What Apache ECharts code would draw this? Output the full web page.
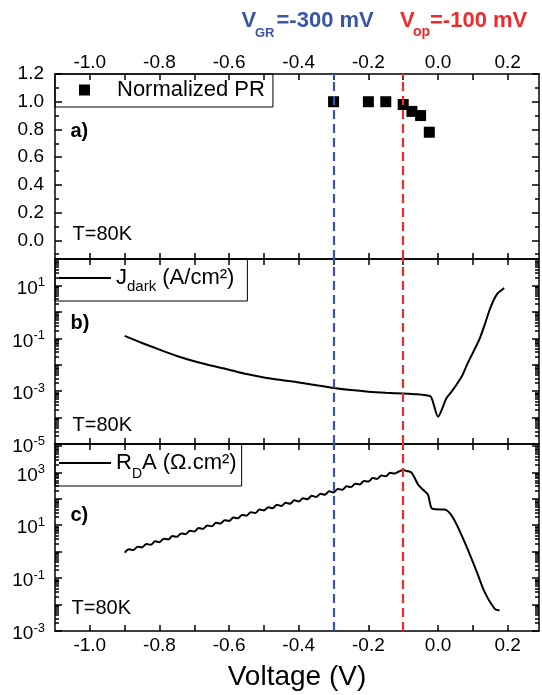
<!DOCTYPE html>
<html><head><meta charset="utf-8">
<script src="https://cdn.jsdelivr.net/npm/echarts@6/dist/echarts.min.js"></script>
<style>html,body{margin:0;padding:0;background:#fff}#c{width:542px;height:695px}</style>
</head><body><div id="c"></div>
<script>
// ---------- data ----------
const vGR = -0.3;   // V_GR line
const vOp = -0.1;   // V_op line

// panel a) normalized photoresponse
const prV   = [-0.3, -0.2, -0.15, -0.1, -0.075, -0.05, -0.025];
const prVal = [1.0, 1.0, 1.0, 0.98, 0.93, 0.90, 0.78];

// panel b) dark current density, log10 of J (A/cm²)
const jV   = [-0.9,-0.85,-0.8,-0.75,-0.7,-0.65,-0.6,-0.55,-0.5,-0.45,-0.4,-0.35,-0.3,-0.25,-0.2,-0.15,-0.1,-0.06,-0.04,-0.02,0.0,0.024,0.04,0.055,0.07,0.085,0.1,0.12,0.135,0.148,0.16,0.17,0.18,0.19];
const jLog = [-0.91,-1.18,-1.43,-1.67,-1.87,-2.04,-2.19,-2.35,-2.48,-2.58,-2.67,-2.78,-2.88,-2.96,-3.02,-3.06,-3.09,-3.12,-3.15,-3.22,-3.97,-3.27,-3.0,-2.72,-2.4,-1.95,-1.55,-1.0,-0.45,0.07,0.45,0.68,0.8,0.9];

// panel c) R_D·A, log10 of (Ω.cm²)
const rdaV = [-0.9,-0.8875,-0.875,-0.8625,-0.85,-0.8375,-0.825,-0.8125,-0.8,-0.7875,-0.775,-0.7625,-0.75,-0.7375,-0.725,-0.7125,-0.7,-0.6875,-0.675,-0.6625,-0.65,-0.6375,-0.625,-0.6125,-0.6,-0.5875,-0.575,-0.5625,-0.55,-0.5375,-0.525,-0.5125,-0.5,-0.4875,-0.475,-0.4625,-0.45,-0.4375,-0.425,-0.4125,-0.4,-0.3875,-0.375,-0.3625,-0.35,-0.3375,-0.325,-0.3125,-0.3,-0.2875,-0.275,-0.2625,-0.25,-0.2375,-0.225,-0.2125,-0.2,-0.1875,-0.175,-0.1625,-0.15,-0.1375,-0.125,-0.1125,-0.1,-0.09,-0.076,-0.057,-0.043,-0.029,-0.019,-0.007,0.019,0.043,0.077,0.110,0.134,0.163,0.177];
const rdaLog = [-0.04,0.09,0.06,0.19,0.16,0.29,0.26,0.39,0.36,0.49,0.46,0.59,0.56,0.69,0.66,0.79,0.76,0.89,0.86,0.99,0.96,1.09,1.06,1.19,1.16,1.29,1.26,1.39,1.36,1.49,1.46,1.59,1.56,1.68,1.645,1.77,1.73,1.85,1.815,1.94,1.90,2.02,1.985,2.11,2.07,2.19,2.155,2.28,2.24,2.37,2.34,2.47,2.44,2.57,2.54,2.67,2.65,2.78,2.75,2.88,2.85,2.98,2.95,3.03,3.09,3.05,2.99,2.53,2.34,2.15,1.65,1.60,1.59,1.28,0.34,-0.72,-1.53,-2.16,-2.22];

// ticks / labels
const xLabelVals = [-1.0,-0.8,-0.6,-0.4,-0.2,0.0,0.2];
const xTickVals  = [-1.0,-0.9,-0.8,-0.7,-0.6,-0.5,-0.4,-0.3,-0.2,-0.1,0.0,0.1,0.2];
const aLabelVals = [0.0,0.2,0.4,0.6,0.8,1.0,1.2];
const aMinorVals = [-0.1,0.1,0.3,0.5,0.7,0.9,1.1];
const bLabelExp  = [-5,-3,-1,1];
const bDecades   = [-5,-4,-3,-2,-1,0,1,2];
const cLabelExp  = [-3,-1,1,3];
const cDecades   = [-3,-2,-1,0,1,2,3,4];

// ---------- styling ----------
const F = '"Liberation Sans", Arial, sans-serif';
const BLUE = '#3a55a8', RED = '#ee2b2b';
const AX = {color:'#000', width:1.5};
const X_MIN = -1.1, X_MAX = 0.29;
const A_MIN = -0.135, A_MAX = 1.2;
const B_MIN = -5, B_MAX = 2;
const C_MIN = -3, C_MAX = 4.07;

function minorLog(decs){ // positions of 2..9 minor ticks in exponent space
  const out=[]; decs.forEach(d=>{for(let k=2;k<=9;k++) out.push(d+Math.log10(k));}); return out;
}

const grids = [
  {left:55, top:74,  width:484, height:185},
  {left:55, top:259, width:484, height:185},
  {left:55, top:444, width:484, height:187}
].map(g=>Object.assign(g,{containLabel:false, outerBoundsMode:'none'}));

function xAx(gi,pos,showLabel,extra){
  return Object.assign({type:'value', gridIndex:gi, position:pos, min:X_MIN, max:X_MAX,
    axisLine:{show:true,onZero:false,lineStyle:AX},
    axisTick:{show:true,inside:true,length:6,customValues:xTickVals,lineStyle:AX},
    axisLabel:{show:showLabel, customValues:xLabelVals, formatter:v=>v.toFixed(1), fontSize:19, fontFamily:F, color:'#000', margin: pos==='top'?2:5, hideOverlap:false},
    splitLine:{show:false}}, extra||{});
}
const supRich = {
  b:{fontSize:19, lineHeight:19, fontFamily:F, color:'#000', padding:[3,0,0,0], verticalAlign:'top'},
  s:{fontSize:13, lineHeight:13, fontFamily:F, color:'#000', verticalAlign:'top'}
};
function yAx(gi,pos,min,max,o){
  return {type:'value', gridIndex:gi, position:pos, min:min, max:max,
    axisLine:{show:!!o.line, onZero:false, lineStyle:AX},
    axisTick:{show:true, inside:true, length:o.len, customValues:o.ticks, lineStyle:AX},
    axisLabel:o.labels ? {show:true, customValues:o.labels, formatter:o.fmt, fontSize:19, fontFamily:F, color:'#000', margin:o.margin||10, hideOverlap:false, rich:o.rich} : {show:false},
    splitLine:{show:false}};
}
const expFmt = v => '{b|10}{s|' + Math.round(v) + '}';

const xAxis = [
  xAx(0,'bottom',false), xAx(0,'top',true),
  xAx(1,'bottom',false), xAx(1,'top',false),
  xAx(2,'bottom',true,{name:'Voltage (V)', nameLocation:'middle', nameGap:32, nameTextStyle:{fontSize:28, fontFamily:F, color:'#000'}}), xAx(2,'top',false)
];
const yAxis = [
  // grid a
  yAx(0,'left',A_MIN,A_MAX,{line:true,len:7,ticks:aLabelVals,labels:aLabelVals,fmt:v=>v.toFixed(1),margin:11}),
  yAx(0,'left',A_MIN,A_MAX,{len:4,ticks:aMinorVals}),
  yAx(0,'right',A_MIN,A_MAX,{line:true,len:7,ticks:aLabelVals}),
  yAx(0,'right',A_MIN,A_MAX,{len:4,ticks:aMinorVals}),
  // grid b (4 = data log axis)
  {type:'log', gridIndex:1, position:'left', min:Math.pow(10,B_MIN), max:Math.pow(10,B_MAX), show:false},
  yAx(1,'left',B_MIN,B_MAX,{line:true,len:7,ticks:bDecades,labels:bLabelExp,fmt:expFmt,rich:supRich}),
  yAx(1,'left',B_MIN,B_MAX,{len:4,ticks:minorLog(bDecades.slice(0,-1))}),
  yAx(1,'right',B_MIN,B_MAX,{line:true,len:7,ticks:bDecades}),
  yAx(1,'right',B_MIN,B_MAX,{len:4,ticks:minorLog(bDecades.slice(0,-1))}),
  // grid c (9 = data log axis)
  {type:'log', gridIndex:2, position:'left', min:Math.pow(10,C_MIN), max:Math.pow(10,C_MAX), show:false},
  yAx(2,'left',C_MIN,C_MAX,{line:true,len:7,ticks:cDecades,labels:cLabelExp,fmt:expFmt,rich:supRich}),
  yAx(2,'left',C_MIN,C_MAX,{len:4,ticks:minorLog(cDecades.slice(0,-1)).filter(v=>v<=C_MAX)}),
  yAx(2,'right',C_MIN,C_MAX,{line:true,len:7,ticks:cDecades}),
  yAx(2,'right',C_MIN,C_MAX,{len:4,ticks:minorLog(cDecades.slice(0,-1)).filter(v=>v<=C_MAX)})
];

const DASH = [9,5];
const vLines = {
  symbol:'none', silent:true, label:{show:false},
  lineStyle:{type:DASH, width:2.2},
  data:[{xAxis:vGR, lineStyle:{color:BLUE, type:DASH, width:2.2}}, {xAxis:vOp, lineStyle:{color:RED, type:DASH, width:2.2}}]
};

const series = [
  {name:'Normalized PR', type:'scatter', xAxisIndex:0, yAxisIndex:0, symbol:'rect', symbolSize:11,
   itemStyle:{color:'#000', opacity:1}, data: prV.map((v,i)=>[v,prVal[i]]), markLine:vLines, z:3},
  {name:'J_dark (A/cm²)', type:'line', xAxisIndex:2, yAxisIndex:4, symbol:'none', smooth:0.25,
   lineStyle:{color:'#000', width:2}, itemStyle:{color:'#000'},
   data: jV.map((v,i)=>[v, Math.pow(10,jLog[i])]), markLine:vLines},
  {name:'R_DA (Ω.cm²)', type:'line', xAxisIndex:4, yAxisIndex:9, symbol:'none', smooth:0.3,
   lineStyle:{color:'#000', width:2}, itemStyle:{color:'#000'},
   data: rdaV.map((v,i)=>[v, Math.pow(10,rdaLog[i])]), markLine:vLines}
];

const legRich = {
  gap:{width:22, fontSize:22, lineHeight:22},
  m:{fontSize:22, lineHeight:22, fontFamily:F, color:'#000', verticalAlign:'top'},
  sub:{fontSize:15, lineHeight:15, fontFamily:F, color:'#000', padding:[12,0,0,0], verticalAlign:'top'},
  subD:{fontSize:14, lineHeight:14, fontFamily:F, color:'#000', padding:[15,0,0,0], verticalAlign:'top'}
};
const legBase = {orient:'horizontal', borderColor:'#000', borderWidth:1, borderRadius:0, selectedMode:false,
  itemStyle:{color:'#000', borderWidth:0}, lineStyle:{width:0},
  textStyle:{fontSize:22, lineHeight:22, fontFamily:F, color:'#000', rich:legRich}};
const legend = [
  Object.assign({}, legBase, {data:[{name:'Normalized PR', icon:'rect'}], left:55, top:74, padding:[5,8,6,24], itemWidth:11, itemHeight:11,
    formatter:()=>'{gap|}{m|Normalized PR}'}),
  Object.assign({}, legBase, {data:[{name:'J_dark (A/cm²)', icon:'rect'}], left:55, top:259, padding:[8,13,7,4], itemWidth:52, itemHeight:2,
    formatter:()=>'{m|J}{sub|dark}{m| (A/cm²)}'}),
  Object.assign({}, legBase, {data:[{name:'R_DA (Ω.cm²)', icon:'rect'}], left:55, top:444, padding:[8,5,5,4], itemWidth:52, itemHeight:2,
    formatter:()=>'{m|R}{subD|D}{m|A (Ω.cm²)}'})
];

function txt(t,x,y,font,fill){
  return {type:'text', x:x, y:y, silent:true, z:100, style:{text:t, font:font, fill:fill||'#000', verticalAlign:'middle', align:'left'}};
}
const graphic = [
  txt('V',241.5,21,'bold 22px '+F,BLUE), txt('GR',255,33,'bold 13px '+F,BLUE), txt('=-300 mV',276.5,21,'bold 22px '+F,BLUE),
  txt('V',400,21,'bold 22px '+F,RED), txt('op',413,32,'bold 14px '+F,RED), txt('=-100 mV',430,21,'bold 22px '+F,RED),
  txt('a)',70.5,131,'bold 20px '+F), txt('T=80K',72.5,234,'20px '+F),
  txt('b)',70.5,323,'bold 20px '+F), txt('T=80K',72.5,425,'20px '+F),
  txt('c)',70.5,515,'bold 20px '+F), txt('T=80K',71.5,608,'20px '+F)
];

const chart = echarts.init(document.getElementById('c'), null, {renderer:'canvas'});
chart.setOption({animation:false, backgroundColor:'#fff', grid:grids, xAxis:xAxis, yAxis:yAxis, series:series, legend:legend, graphic:graphic});
</script></body></html>
